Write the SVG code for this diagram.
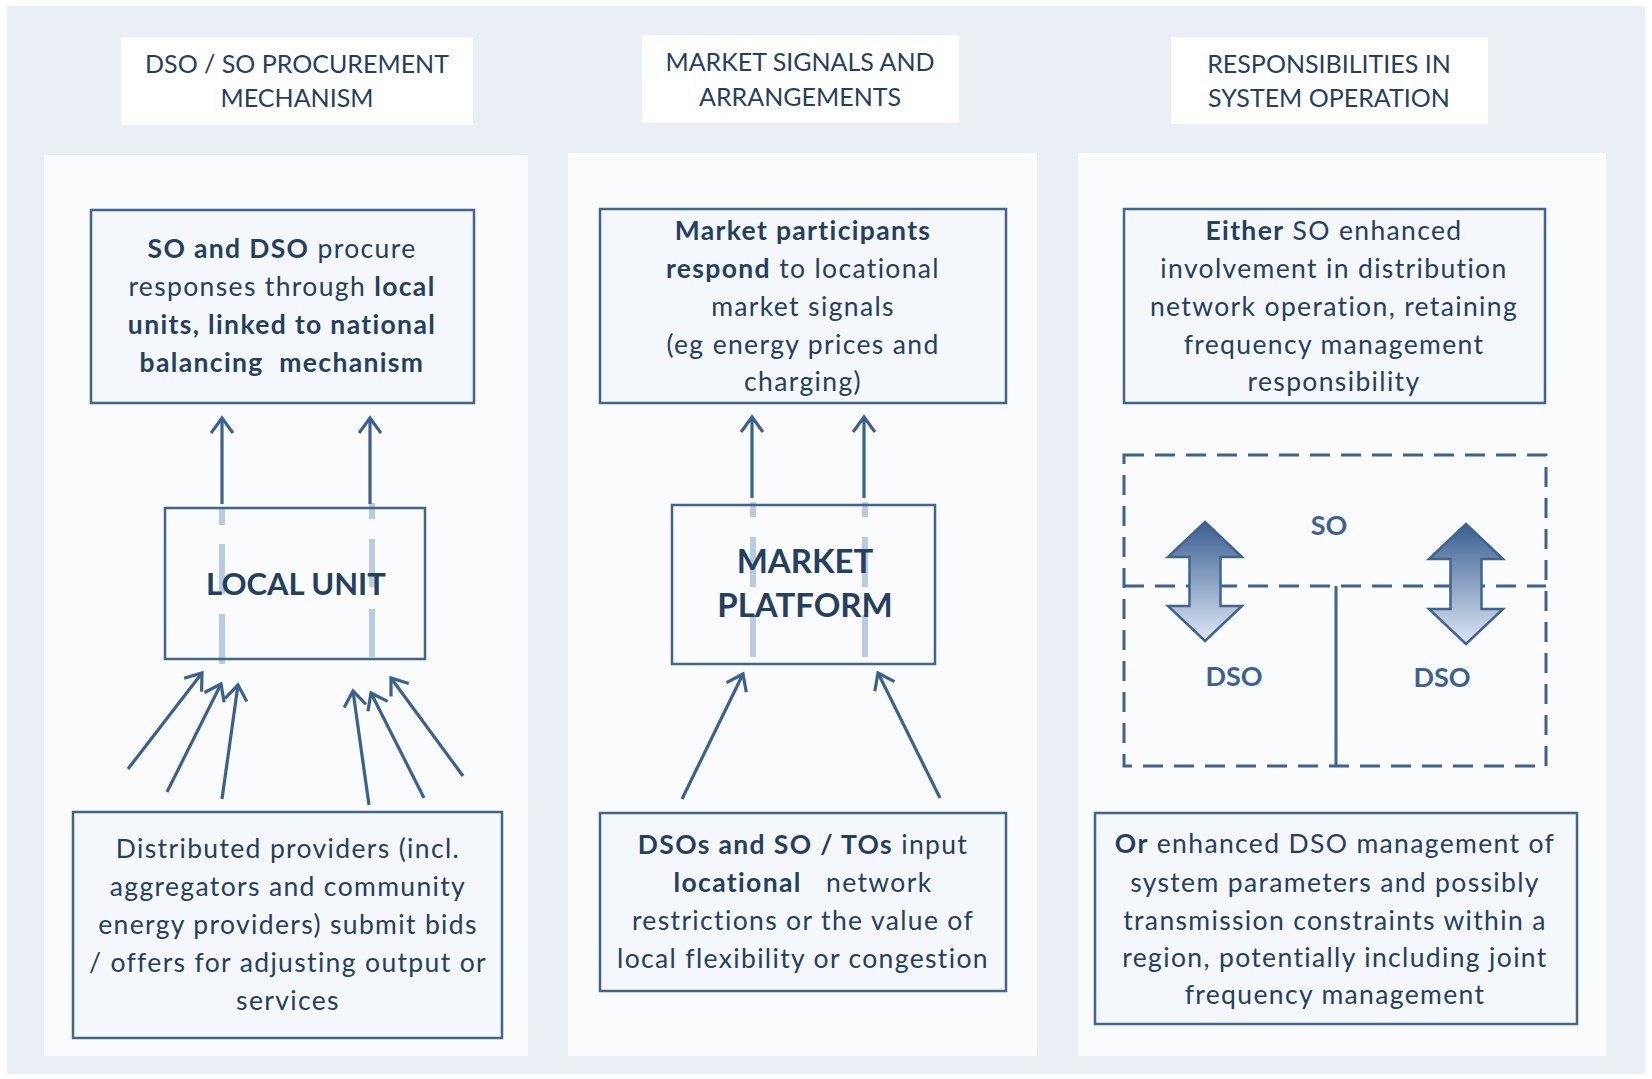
<svg xmlns="http://www.w3.org/2000/svg" width="1652" height="1079" viewBox="0 0 1652 1079">
<defs>
<style>
text{font-family:Lato,"Open Sans","Liberation Sans",sans-serif;fill:#243F60;text-anchor:middle}
.hd{font-size:25px}
.bx{font-size:26.5px;letter-spacing:1.35px}
.b{font-weight:bold}
.big{font-size:31px;font-weight:bold}
.lbl{font-size:27px;font-weight:bold;fill:#3C6293}
.panel{fill:#FAFBFD}
.head{fill:#FFFFFF}
.box{fill:#F4F7FB;stroke:#41658F;stroke-width:2.5}
.wbox{fill:none;stroke:#41658F;stroke-width:2.5}
.arr{fill:none;stroke:#3B6191;stroke-width:3.2;marker-end:url(#ah)}
.ghost{fill:none;stroke:#B7CBE3;stroke-width:6}
.dash{fill:none;stroke:#3D6190;stroke-width:3;stroke-dasharray:20 11}
.dbl{fill:url(#gr);stroke:#41648F;stroke-width:2.5;stroke-linejoin:miter}
</style>
<marker id="ah" viewBox="0 0 24 24" refX="20" refY="12" markerWidth="24" markerHeight="24" markerUnits="userSpaceOnUse" orient="auto">
<path d="M5,1 L20,12 L5,23" fill="none" stroke="#3B6191" stroke-width="3.2"/>
</marker>
<linearGradient id="gr" x1="0" y1="0" x2="0" y2="1">
<stop offset="0" stop-color="#3A5F91"/>
<stop offset="1" stop-color="#DDE7F5"/>
</linearGradient>
</defs>
<rect x="0" y="0" width="1652" height="1079" fill="#FFFFFF"/>
<rect x="7" y="6" width="1638" height="1068" fill="#EAEEF5"/>

<g id="columns">
<rect class="panel" x="44" y="155" width="484" height="901"/>
<rect class="panel" x="568" y="153" width="469" height="903"/>
<rect class="panel" x="1078" y="153" width="528" height="903"/>
</g>

<g id="header1">
<rect class="head" x="121" y="37" width="352" height="88"/>
<text class="hd" x="297" y="73">DSO / SO PROCUREMENT</text>
<text class="hd" x="297" y="107">MECHANISM</text>
</g>
<g id="header2">
<rect class="head" x="642" y="35" width="317" height="88"/>
<text class="hd" x="800" y="71">MARKET SIGNALS AND</text>
<text class="hd" x="800" y="106">ARRANGEMENTS</text>
</g>
<g id="header3">
<rect class="head" x="1171" y="37" width="317" height="87"/>
<text class="hd" x="1329" y="73">RESPONSIBILITIES IN</text>
<text class="hd" x="1329" y="107">SYSTEM OPERATION</text>
</g>

<g id="connectors">
<path class="ghost" d="M222,509V525 M222,544V594 M222,614V664"/>
<path class="ghost" d="M372,503V519 M372,539V587 M372,609V657"/>
<path class="ghost" d="M753,502V517 M753,537V587 M753,615V657"/>
<path class="ghost" d="M865,502V517 M865,537V587 M865,615V657"/>
<line class="arr" x1="222" y1="504" x2="222" y2="418"/>
<line class="arr" x1="370" y1="504" x2="370" y2="418"/>
<line class="arr" x1="128" y1="769" x2="202" y2="673"/>
<line class="arr" x1="167" y1="792" x2="221" y2="684"/>
<line class="arr" x1="222" y1="799" x2="238" y2="685"/>
<line class="arr" x1="369" y1="805" x2="353" y2="691"/>
<line class="arr" x1="424" y1="798" x2="371" y2="693"/>
<line class="arr" x1="463" y1="776" x2="391" y2="678"/>
<line class="arr" x1="752" y1="498" x2="752" y2="417"/>
<line class="arr" x1="864" y1="498" x2="864" y2="417"/>
<line class="arr" x1="682" y1="799" x2="743" y2="674"/>
<line class="arr" x1="940" y1="798" x2="878" y2="673"/>
</g>

<g id="col1-top">
<rect class="box" x="91" y="210" width="383" height="193"/>
<text class="bx" x="282" y="258"><tspan class="b">SO and DSO</tspan> procure</text>
<text class="bx" x="282" y="296">responses through <tspan class="b">local</tspan></text>
<text class="bx b" x="282" y="334">units, linked to national</text>
<text class="bx b" x="282" y="372" xml:space="preserve">balancing  mechanism</text>
</g>

<g id="local-unit">
<rect class="wbox" x="165" y="508" width="260" height="151"/>
<text class="big" x="296" y="595">LOCAL UNIT</text>
</g>

<g id="col1-bottom">
<rect class="box" x="73" y="812" width="429" height="226"/>
<text class="bx" x="288" y="858">Distributed providers (incl.</text>
<text class="bx" x="288" y="896">aggregators and community</text>
<text class="bx" x="288" y="934">energy providers) submit bids</text>
<text class="bx" x="288" y="972">/ offers for adjusting output or</text>
<text class="bx" x="288" y="1010">services</text>
</g>

<g id="col2-top">
<rect class="box" x="600" y="209" width="406" height="194"/>
<text class="bx b" x="803" y="240">Market participants</text>
<text class="bx" x="803" y="278"><tspan class="b">respond</tspan> to locational</text>
<text class="bx" x="803" y="316">market signals</text>
<text class="bx" x="803" y="354">(eg energy prices and</text>
<text class="bx" x="803" y="391">charging)</text>
</g>

<g id="market-platform">
<rect class="wbox" x="672" y="505" width="263" height="159"/>
<text class="big" x="805" y="573" style="font-size:33px">MARKET</text>
<text class="big" x="805" y="617" style="font-size:33px">PLATFORM</text>
</g>

<g id="col2-bottom">
<rect class="box" x="600" y="813" width="406" height="178"/>
<text class="bx" x="803" y="854"><tspan class="b">DSOs and SO / TOs</tspan> input</text>
<text class="bx" x="803" y="892" xml:space="preserve"><tspan class="b">locational</tspan>   network</text>
<text class="bx" x="803" y="930">restrictions or the value of</text>
<text class="bx" x="803" y="968">local flexibility or congestion</text>
</g>

<g id="col3-top">
<rect class="box" x="1124" y="209" width="421" height="194"/>
<text class="bx" x="1334" y="240"><tspan class="b">Either</tspan> SO enhanced</text>
<text class="bx" x="1334" y="278">involvement in distribution</text>
<text class="bx" x="1334" y="316">network operation, retaining</text>
<text class="bx" x="1334" y="354">frequency management</text>
<text class="bx" x="1334" y="391">responsibility</text>
</g>

<g id="so-dso-regions">
<rect class="dash" x="1124" y="455" width="422" height="311"/>
<line class="dash" x1="1124" y1="586" x2="1546" y2="586"/>
<line x1="1336" y1="586" x2="1336" y2="766" stroke="#3D6190" stroke-width="3"/>
<text class="lbl" x="1329" y="535">SO</text>
<text class="lbl" x="1234" y="686">DSO</text>
<text class="lbl" x="1442" y="687">DSO</text>
</g>

<g id="updown-left">
<path class="dbl" d="M1205,522 L1242,557 L1220.5,557 L1220.5,606 L1242,606 L1205,641 L1168,606 L1189.5,606 L1189.5,557 L1168,557 Z"/>
</g>
<g id="updown-right">
<path class="dbl" d="M1466,524 L1503,559 L1481.5,559 L1481.5,609 L1503,609 L1466,644 L1429,609 L1450.5,609 L1450.5,559 L1429,559 Z"/>
</g>

<g id="col3-bottom">
<rect class="box" x="1095" y="813" width="482" height="211"/>
<text class="bx" x="1335" y="853"><tspan class="b">Or</tspan> enhanced DSO management of</text>
<text class="bx" x="1335" y="892">system parameters and possibly</text>
<text class="bx" x="1335" y="930">transmission constraints within a</text>
<text class="bx" x="1335" y="967">region, potentially including joint</text>
<text class="bx" x="1335" y="1004">frequency management</text>
</g>
</svg>
